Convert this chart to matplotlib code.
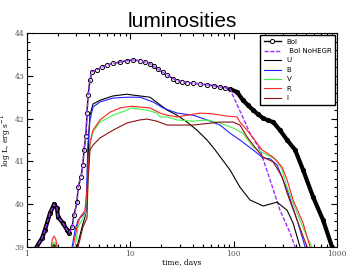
import numpy as np
import matplotlib
matplotlib.use("Agg")
import matplotlib.pyplot as plt
from matplotlib.ticker import FixedLocator, FixedFormatter, MultipleLocator, LogLocator, NullFormatter

# bolometric light curve, days / log L
bol_t = [1.1, 1.2, 1.40, 1.49, 1.67, 1.83, 1.95, 2.0, 2.23, 2.44, 2.55, 2.73, 2.85, 3.05,
         3.12, 3.33, 3.48, 3.56, 3.72, 3.81, 3.90, 4.07, 4.26, 4.76, 5.3, 5.95, 6.8, 7.95,
         9.2, 10.6, 12.4, 13.9, 15.5, 17.0, 18.5, 20.5, 22.7, 25.9, 28.5, 31.7, 35.5, 40.5,
         47.0, 55.3, 64.0, 73.8, 83.0, 92.3, 108, 123, 138, 154, 172, 193, 215, 241, 281,
         329, 393, 470, 587, 733, 897, 960]
bol_L = [38.7, 38.95, 39.21, 39.40, 39.79, 40.00, 39.91, 39.70, 39.56, 39.40, 39.33, 39.47,
         39.75, 40.05, 40.40, 40.64, 40.92, 41.27, 41.6, 42.13, 42.55, 42.90, 43.09, 43.14,
         43.20, 43.25, 43.29, 43.32, 43.35, 43.37, 43.35, 43.32, 43.28, 43.22, 43.16, 43.09,
         43.02, 42.93, 42.89, 42.86, 42.84, 42.83, 42.81, 42.79, 42.77, 42.74, 42.72, 42.69,
         42.62, 42.43, 42.31, 42.20, 42.10, 42.01, 41.96, 41.92, 41.73, 41.50, 41.27, 40.80,
         40.17, 39.63, 39.0, 38.7]

# no-HEGR curve departs from Bol after ~90 days
nohegr_tail_t = [115, 144, 180, 225, 281, 352, 393, 420]
nohegr_tail_L = [42.18, 41.66, 41.27, 40.57, 39.86, 39.33, 39.0, 38.7]

u_t = [1.70, 1.77, 1.83, 1.90, 1.97, 2.95, 3.05, 3.41, 3.64, 3.81, 3.98, 4.07, 4.35, 5.09,
       6.8, 9.29, 10.6, 12.4, 15.5, 18.5, 22.7, 28.3, 35.4, 44.2, 55.3, 66.1, 92.3, 115, 144,
       193, 263, 329, 376, 439, 460]
u_L = [38.95, 39.03, 39.06, 39.03, 38.95, 38.8, 39.0, 39.47, 39.70, 40.1, 41.73, 42.08, 42.34,
       42.43, 42.53, 42.57, 42.55, 42.53, 42.50, 42.36, 42.20, 42.08, 41.92, 41.73, 41.50,
       41.27, 40.80, 40.40, 40.10, 39.96, 40.05, 39.86, 39.56, 39.0, 38.7]

b_t = [2.65, 2.73, 2.92, 3.12, 3.48, 3.72, 3.80, 3.88, 4.07, 4.35, 5.09, 6.8, 9.29, 12.4,
       16.6, 20.7, 28.3, 40.5, 55.3, 73.8, 92.3, 115, 154, 193, 225, 263, 329, 411, 492, 520]
b_L = [38.8, 39.0, 39.40, 39.63, 39.75, 39.82, 40.6, 41.4, 41.97, 42.27, 42.39, 42.48, 42.50,
       42.50, 42.39, 42.25, 42.13, 42.08, 41.97, 41.85, 41.66, 41.50, 41.27, 41.08, 41.06,
       40.92, 40.33, 39.63, 39.0, 38.7]

v_t = [1.71, 1.77, 1.83, 1.90, 1.97, 2.85, 2.92, 3.12, 3.48, 3.64, 3.85, 4.07, 4.35, 5.09,
       6.8, 9.29, 10.3, 12.4, 15.5, 18.1, 19.4, 22.7, 28.3, 40.5, 55.3, 73.8, 98.7, 123, 154,
       193, 263, 294, 329, 411, 514, 574, 600]
v_L = [38.95, 39.08, 39.12, 39.08, 38.95, 38.8, 39.0, 39.47, 39.68, 39.75, 40.3, 41.38, 41.69,
       41.92, 42.08, 42.20, 42.25, 42.22, 42.18, 42.13, 42.04, 42.04, 41.97, 41.94, 41.97,
       41.90, 41.78, 41.66, 41.34, 41.20, 41.03, 40.80, 40.40, 39.79, 39.23, 39.0, 38.7]

r_t = [1.70, 1.76, 1.83, 1.90, 1.98, 2.72, 2.79, 3.05, 3.26, 3.48, 3.64, 3.85, 4.07, 4.35,
       5.09, 6.36, 7.95, 10.3, 12.4, 15.5, 19.4, 22.7, 28.3, 35.4, 47.3, 63.2, 86.3, 108, 115,
       135, 168, 188, 241, 294, 329, 376, 470, 549, 580]
r_L = [38.95, 39.18, 39.26, 39.18, 38.95, 38.8, 39.0, 39.47, 39.70, 39.79, 39.86, 40.5, 41.45,
       41.73, 41.97, 42.15, 42.25, 42.29, 42.27, 42.25, 42.13, 42.08, 42.04, 42.08, 42.13,
       42.11, 42.06, 42.04, 41.92, 41.73, 41.43, 41.27, 41.10, 40.87, 40.57, 40.10, 39.56,
       39.0, 38.7]

i_t = [1.74, 1.83, 1.93, 3.05, 3.12, 3.48, 3.81, 3.90, 4.07, 4.35, 5.09, 6.8, 9.29, 12.4,
       14.5, 18.1, 22.7, 40.5, 73.8, 98.7, 115, 135, 168, 193, 241, 294, 329, 411, 514, 540]
i_L = [38.95, 39.04, 38.95, 38.8, 39.0, 39.47, 39.68, 40.57, 41.27, 41.38, 41.55, 41.73, 41.90,
       41.97, 41.99, 41.94, 41.85, 41.85, 41.92, 41.92, 41.85, 41.57, 41.27, 41.10, 40.99,
       40.64, 40.26, 39.63, 39.0, 38.7]

n_keep = bol_t.index(92.3) + 1
nohegr_t = bol_t[:n_keep] + nohegr_tail_t
nohegr_L = bol_L[:n_keep] + nohegr_tail_L

plt.rcParams['font.family'] = 'DejaVu Serif'

fig = plt.figure(figsize=(3.46, 2.66), dpi=100)
ax = fig.add_axes([0.078, 0.071, 0.896, 0.805])

bt = np.array(bol_t)
bl = np.array(bol_L)
ax.plot(bt, bl, color='black', lw=1, marker='o', ms=3, mfc='white', mec='black', mew=0.7,
        label='Bol')
early = bt <= 2.6
late = bt >= 92
ax.plot(bt[early], bl[early], color='black', lw=3.0, solid_capstyle='round')
ax.plot(bt[late], bl[late], color='black', lw=3.0, solid_capstyle='round')

ax.plot(nohegr_t, nohegr_L, color='#9b30ff', lw=1, dashes=(3, 1.2), label=' Bol NoHEGR')
ax.plot(u_t, u_L, color='black', lw=0.8, label='U')
ax.plot(b_t, b_L, color='#1f1fff', lw=0.8, label='B')
ax.plot(v_t, v_L, color='#44f044', lw=0.8, label='V')
ax.plot(r_t, r_L, color='#ff2020', lw=0.8, label='R')
ax.plot(i_t, i_L, color='#8b1010', lw=0.8, label='I')

ax.set_xscale('log')
ax.set_xlim(1, 1000)
ax.set_ylim(39, 44)
ax.xaxis.set_major_locator(FixedLocator([1, 10, 100, 1000]))
ax.xaxis.set_major_formatter(FixedFormatter(['1', '10', '100', '1000']))
ax.xaxis.set_minor_locator(LogLocator(base=10, subs=np.arange(2, 10)))
ax.xaxis.set_minor_formatter(NullFormatter())
ax.yaxis.set_major_locator(MultipleLocator(1))
ax.yaxis.set_minor_locator(MultipleLocator(0.2))
ax.tick_params(which='both', direction='in', top=True, right=True, labelsize=5.5,
               labelcolor='#555555', width=0.8, pad=2)
ax.tick_params(which='major', length=4)
ax.tick_params(which='minor', length=2)

ax.set_xlabel('time, days', fontsize=5.5, labelpad=0.5)
ax.set_ylabel('log L, erg s$^{-1}$', fontsize=5.5, labelpad=1)
ax.set_title('luminosities', fontsize=15, family='Liberation Sans', pad=4)

ax.legend(loc='upper right', prop={'family': 'DejaVu Sans', 'size': 5}, fancybox=False,
          edgecolor='black', framealpha=1, handlelength=2.5, labelspacing=0.5,
          borderpad=0.5, handletextpad=0.8, borderaxespad=0.3)

fig.savefig('out.png', dpi=100)
